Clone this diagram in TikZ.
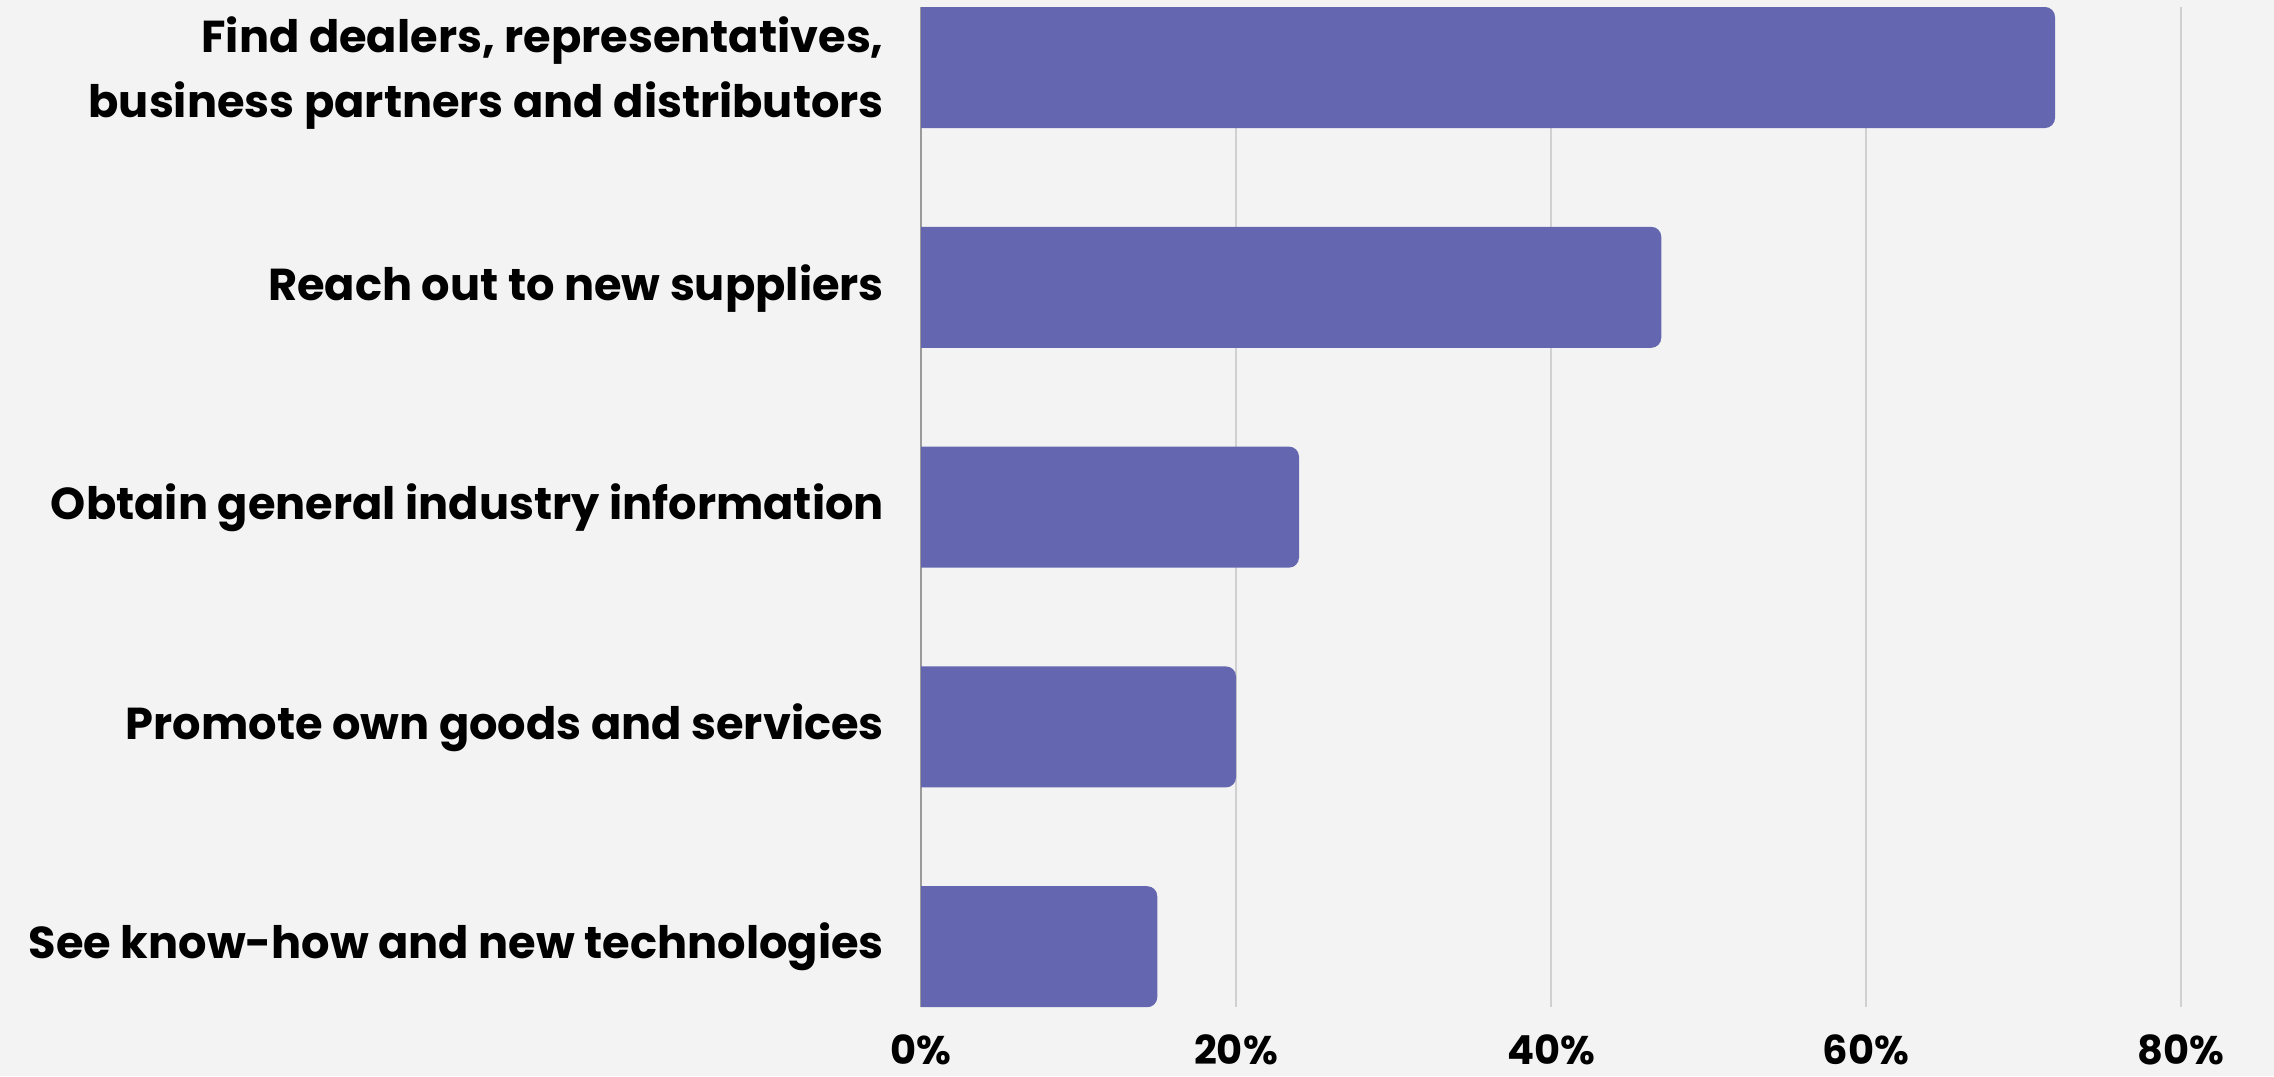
\documentclass[tikz,border=0pt]{standalone}
\usepackage{fontspec}
\setmainfont{Poppins}
\definecolor{bg}{HTML}{F3F3F3}
\definecolor{barc}{HTML}{6466B0}
\definecolor{gridc}{HTML}{D0D0D0}
\definecolor{axisc}{HTML}{9A9A9A}
\begin{document}
\begin{tikzpicture}[x=1pt,y=-1pt,
  barstyle/.style={fill=barc},
  gridline/.style={draw=gridc,line width=2pt},
  axisline/.style={draw=axisc,line width=2pt},
  catlabel/.style={inner sep=0pt,anchor=base east,align=right,text=black,font=\fontsize{44.7}{65}\selectfont\bfseries},
  ticklabel/.style={inner sep=0pt,anchor=base,text=black,font=\fontsize{40}{48}\selectfont\bfseries}]
\fill[bg] (0,0) rectangle (2274,1076);
\useasboundingbox (0,0) rectangle (2274,1076);
% grid
\foreach \k/\t in {1/20,2/40,3/60,4/80}{
  \coordinate (gt\k) at ({921+315*\k},7);
  \coordinate (gb\k) at ({921+315*\k},1007);
  \draw[gridline] (gt\k) -- (gb\k);
  \node[ticklabel] (tick\k) at ({921+315*\k},1064) {\t\%};
}
\coordinate (at) at (921,7);
\coordinate (ab) at (921,1007);
\draw[axisline] (at) -- (ab);
\node[ticklabel] (tick0) at (921,1064) {0\%};
% bars
\foreach \i/\v in {0/72,1/47,2/24,3/20,4/15}{
  \fill[barstyle] ({921},{7+219.8*\i}) [rounded corners=10pt] -- ({921+15.75*\v},{7+219.8*\i}) -- ({921+15.75*\v},{128+219.8*\i}) [sharp corners] -- (921,{128+219.8*\i}) -- cycle;
}
% labels
\node[catlabel] (l1) at (884,117) {Find dealers, representatives,\\business partners and distributors};
\node[catlabel] (l2) at (884,300) {Reach out to new suppliers};
\node[catlabel] (l3) at (884,519) {Obtain general industry information};
\node[catlabel] (l4) at (884,739) {Promote own goods and services};
\node[catlabel] (l5) at (884,958) {See know-how and new technologies};
\end{tikzpicture}
\end{document}
